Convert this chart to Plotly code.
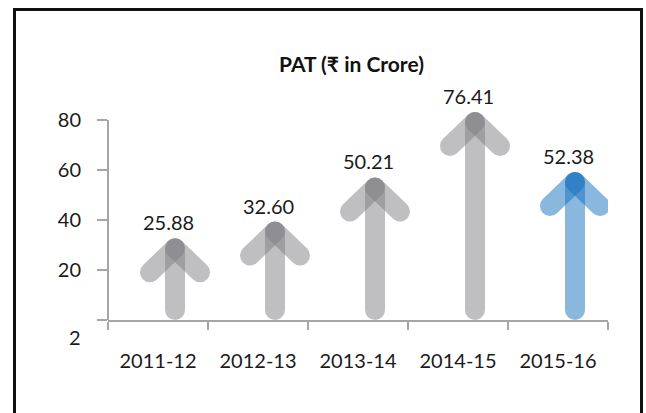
import plotly.graph_objects as go

years = ["2011-12", "2012-13", "2013-14", "2014-15", "2015-16"]
pat = [25.88, 32.60, 50.21, 76.41, 52.38]
value_labels = ["25.88", "32.60", "50.21", "76.41", "52.38"]
y_ticks = [0, 20, 40, 60, 80]
y_tick_text = ["", "20", "40", "60", "80"]

GRAY = "rgba(128,128,132,0.5)"
BLUE = "rgba(20,112,190,0.5)"
arrow_colors = [GRAY, GRAY, GRAY, GRAY, BLUE]

FONT = "Lato, 'Open Sans', sans-serif"
AX = "#a6a6a8"

# arrow styling (in data units): offset of arrow from category centre, head size
X_OFF = 0.17
TIP_PAD = 2.8
HEAD_DX = 0.25
HEAD_DY = 9.6
BASE = 4
LW = 20
Y_MAX_AXIS = 80   # top of the drawn axis line
Y_RANGE_TOP = 88  # extra headroom so arrow tips are not clipped

fig = go.Figure()
for i, (v, col) in enumerate(zip(pat, arrow_colors)):
    xc = i + X_OFF
    tip = v + TIP_PAD
    segs = [
        ([xc, xc], [BASE, tip]),
        ([xc - HEAD_DX, xc], [tip - HEAD_DY, tip]),
        ([xc, xc + HEAD_DX], [tip, tip - HEAD_DY]),
    ]
    for sx, sy in segs:
        fig.add_trace(go.Scatter(
            x=sx, y=sy, mode="lines",
            line=dict(color=col, width=LW),
            hoverinfo="skip", showlegend=False, cliponaxis=False,
        ))
    fig.add_annotation(
        x=i + 0.1, y=v, text=value_labels[i], showarrow=False,
        yshift=33, yanchor="middle", xanchor="center",
        font=dict(family=FONT, size=20, color="#1a1a1a"),
    )

# title
fig.add_annotation(
    xref="paper", yref="paper", x=0.486, y=1.168,
    text="<b>PAT (₹ in Crore)</b>", showarrow=False,
    xanchor="center", yanchor="middle",
    font=dict(family=FONT, size=21, color="#111111"),
)
# odd bottom y label
fig.add_annotation(
    xref="paper", yref="y", x=-0.05, y=0, text="2", showarrow=False,
    xanchor="right", yanchor="middle", yshift=-17,
    font=dict(family=FONT, size=20, color="#1a1a1a"),
)

# y axis line (only up to the top tick)
fig.add_shape(
    type="line", xref="paper", yref="y", x0=0, x1=0, y0=0, y1=Y_MAX_AXIS,
    line=dict(color=AX, width=2), layer="above",
)

# outer border
fig.add_shape(
    type="rect", xref="paper", yref="paper",
    x0=-0.187, x1=1.067, y0=-0.5, y1=1.411,
    line=dict(color="#111111", width=3), fillcolor="rgba(0,0,0,0)",
    layer="above",
)

fig.update_xaxes(
    range=[-0.5, 4.5], automargin=False,
    tickmode="array", tickvals=list(range(len(years))), ticktext=years,
    ticks="", showgrid=False, zeroline=False,
    showline=True, linecolor=AX, linewidth=2,
    minor=dict(tickmode="array", tickvals=[k - 0.5 for k in range(len(years) + 1)],
               ticks="outside", ticklen=8, tickwidth=2, tickcolor=AX, showgrid=False),
    tickfont=dict(family=FONT, size=20, color="#1a1a1a"),
    ticklabelstandoff=22,
)
fig.update_yaxes(
    range=[0, Y_RANGE_TOP], automargin=False,
    tickmode="array", tickvals=y_ticks, ticktext=y_tick_text,
    ticks="outside", ticklen=10, tickwidth=2, tickcolor=AX,
    showgrid=False, zeroline=False, showline=False,
    tickfont=dict(family=FONT, size=20, color="#1a1a1a"),
    ticklabelstandoff=12,
)
fig.update_layout(
    width=646, height=413,
    margin=dict(l=108, r=38, t=100, b=93),
    paper_bgcolor="white", plot_bgcolor="white",
    showlegend=False,
)

post = """
document.body.style.margin='0';
document.body.style.overflow='hidden';
function rc(){document.querySelectorAll('.scatterlayer .js-line').forEach(function(p){p.style.strokeLinecap='round';});}
rc(); setTimeout(rc, 50); setTimeout(rc, 300);
"""
fig.write_html("out.html", post_script=post, config={"displayModeBar": False})
